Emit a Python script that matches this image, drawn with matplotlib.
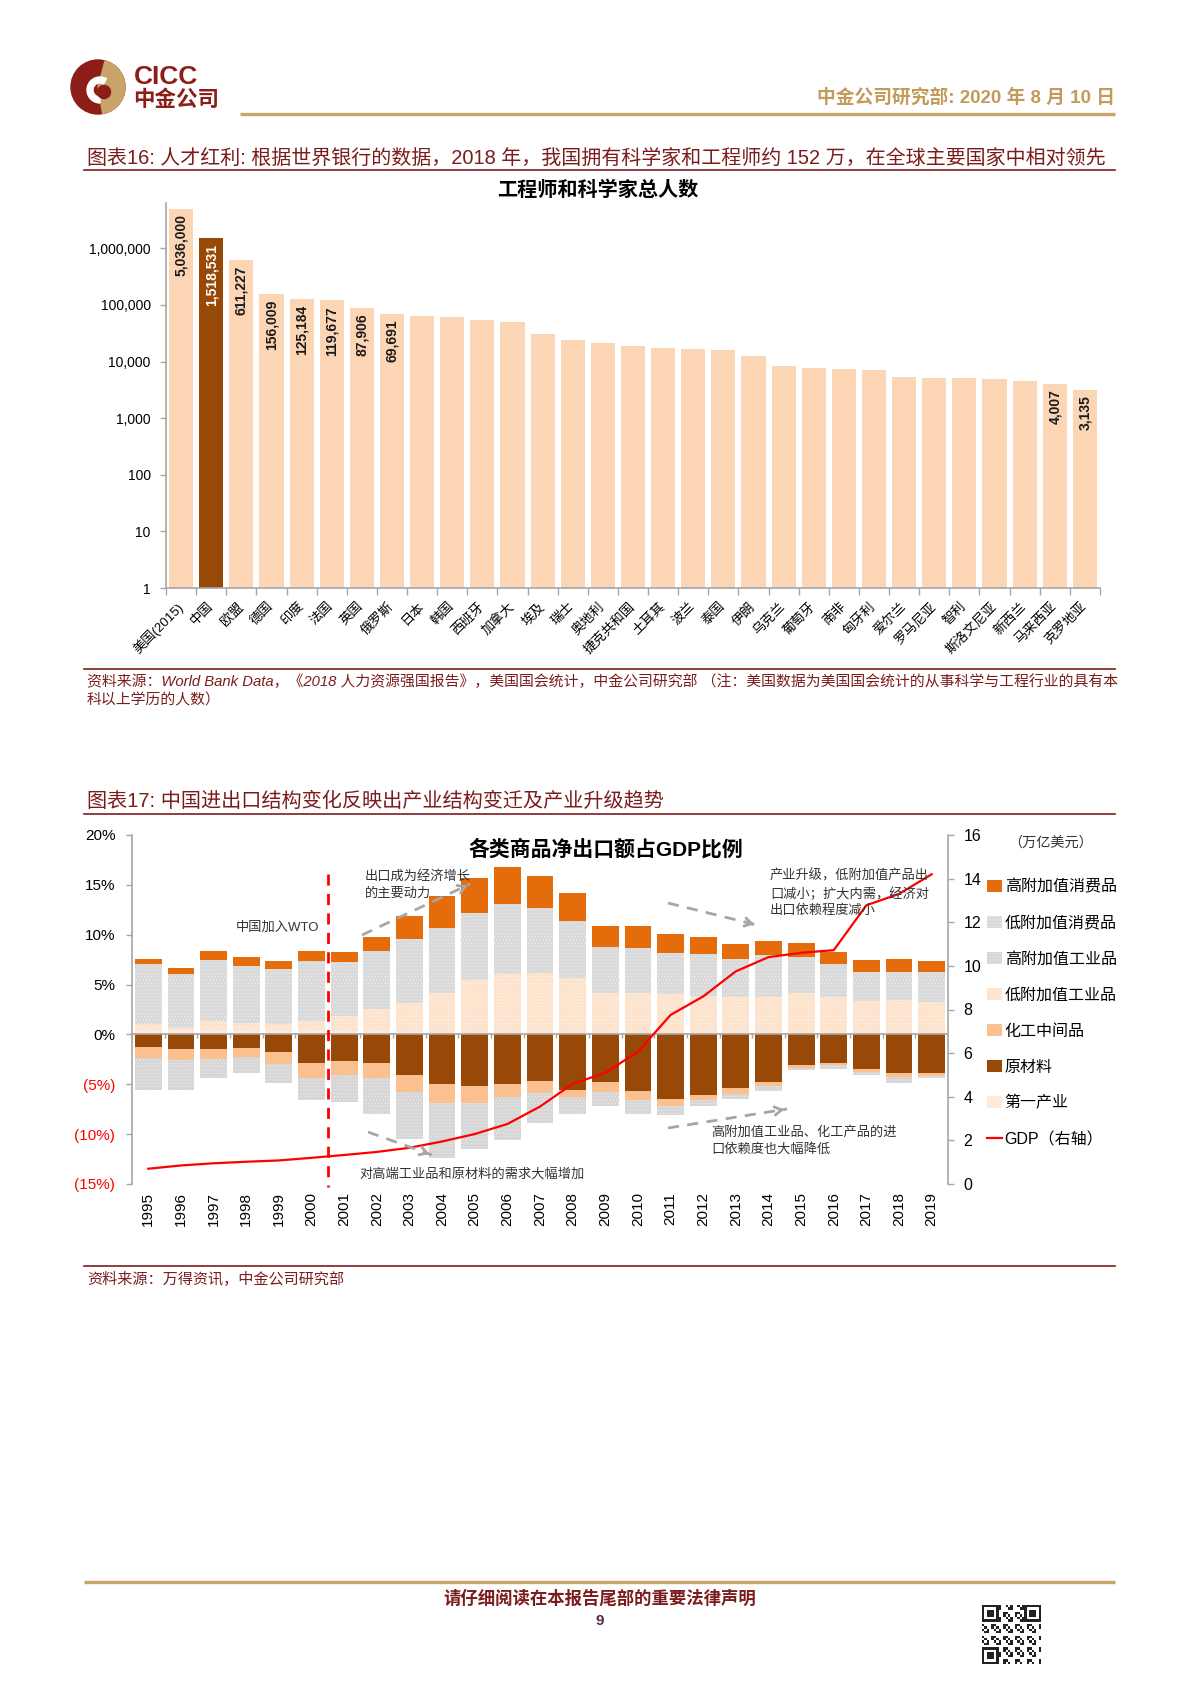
import numpy as np
import matplotlib
matplotlib.use('Agg')
import matplotlib.pyplot as plt
from matplotlib.patches import Rectangle, Circle, Wedge, Patch
from matplotlib.lines import Line2D

plt.rcParams['font.family'] = ['Liberation Sans', 'Noto Sans CJK SC', 'DejaVu Sans']
plt.rcParams['hatch.linewidth'] = 0.5
plt.rcParams['axes.unicode_minus'] = False

# ---------------- data: chart 1 ----------------
countries = ['美国(2015)', '中国', '欧盟', '德国', '印度', '法国', '英国', '俄罗斯', '日本', '韩国',
             '西班牙', '加拿大', '埃及', '瑞士', '奥地利', '捷克共和国', '土耳其', '波兰', '泰国', '伊朗',
             '乌克兰', '葡萄牙', '南非', '匈牙利', '爱尔兰', '罗马尼亚', '智利', '斯洛文尼亚', '新西兰',
             '马来西亚', '克罗地亚']
engineers = [5036000, 1518531, 611227, 156009, 125184, 119677, 87906, 69691, 64600, 61200,
             54200, 50600, 30600, 23700, 21500, 19000, 17100, 16600, 16200, 12400,
             8340, 7580, 7480, 7090, 5400, 5190, 5050, 4910, 4590,
             4007, 3135]
labeled_idx = [0, 1, 2, 3, 4, 5, 6, 7, 29, 30]
y1_ticks = [1, 10, 100, 1000, 10000, 100000, 1000000]

# ---------------- data: chart 2 ----------------
years = list(range(1995, 2020))
primary = [0.4, 0.3, 0.4, 0.4, 0.3, 0.3, 0.3, 0.3, 0.2, 0.1, 0.1, 0.1, 0.05, 0, 0, 0, 0, 0, 0, 0, 0, 0, 0, 0, 0]
raw_mat = [-1.28, -1.5, -1.5, -1.34, -1.8, -2.88, -2.71, -2.84, -4.05, -4.95, -5.15, -4.95, -4.72, -5.62,
           -4.78, -5.69, -6.49, -6.05, -5.4, -4.75, -3.1, -2.82, -3.42, -3.9, -3.9]
chem_mid = [-1.07, -1.04, -0.94, -0.94, -1.2, -1.44, -1.34, -1.54, -1.71, -1.97, -1.71, -1.37, -1.17, -0.7,
            -0.97, -0.9, -0.64, -0.57, -0.54, -0.47, -0.23, -0.27, -0.33, -0.4, -0.23]
low_ind = [0.6, 0.34, 0.9, 0.7, 0.7, 1.07, 1.5, 2.2, 2.98, 4.05, 5.32, 5.99, 6.1, 5.62,
           4.15, 4.15, 4.08, 3.85, 3.8, 3.8, 4.15, 3.8, 3.38, 3.48, 3.26]
high_ind = [-3.21, -3.01, -1.91, -1.54, -1.84, -2.24, -2.74, -3.58, -4.75, -5.45, -4.65, -4.25, -3.01, -1.64,
            -1.4, -1.44, -1.0, -0.57, -0.5, -0.43, -0.23, -0.4, -0.33, -0.6, -0.2]
low_con = [6.09, 5.45, 6.19, 5.75, 5.52, 5.95, 5.42, 5.85, 6.42, 6.56, 6.76, 7.02, 6.52, 5.72,
           4.65, 4.52, 4.08, 4.18, 3.72, 4.15, 3.62, 3.3, 2.91, 2.78, 2.96]
high_con = [0.5, 0.6, 0.84, 0.94, 0.84, 1.07, 1.07, 1.44, 2.27, 3.14, 3.55, 3.68, 3.18, 2.84,
            2.07, 2.17, 1.87, 1.74, 1.57, 1.39, 1.39, 1.15, 1.14, 1.27, 1.1]
gdp = [0.70, 0.85, 0.95, 1.02, 1.08, 1.20, 1.33, 1.47, 1.66, 1.95, 2.29, 2.75, 3.55, 4.59,
       5.10, 6.06, 7.75, 8.60, 9.75, 10.40, 10.60, 10.72, 12.78, 13.30, 14.20]
left_ticks = [-15, -10, -5, 0, 5, 10, 15, 20]
right_ticks = [0, 2, 4, 6, 8, 10, 12, 14, 16]

# ---------------- figure ----------------
W, H = 1200, 1698
fig = plt.figure(figsize=(W / 100, H / 100), dpi=100)


def rect(x0, y0, x1, y1):
    return [x0 / W, 1 - y1 / H, (x1 - x0) / W, (y1 - y0) / H]


AXC = '#A6A6A6'
MAROON = '#7B1C1C'
GOLD = '#C9A468'

# ---------------- chart 1 ----------------
ax1 = fig.add_axes(rect(166, 203, 1100, 588))
x1 = np.arange(len(countries))
cols1 = ['#984807' if c == '中国' else '#FCD5B5' for c in countries]
ax1.bar(x1, engineers, width=0.8, color=cols1, linewidth=0, zorder=2)
ax1.set_yscale('log')
ax1.set_ylim(1, 10 ** 6.8)
ax1.set_xlim(-0.5, len(countries) - 0.5)
ax1.set_yticks(y1_ticks)
ax1.set_yticklabels([f'{v:,}' for v in y1_ticks])
ax1.yaxis.set_minor_locator(matplotlib.ticker.NullLocator())
ax1.tick_params(axis='y', length=4, width=1, color=AXC, pad=7, labelsize=10)
ax1.set_xticks(x1)
ax1.set_xticklabels(countries, rotation=45, ha='right', va='center', rotation_mode='anchor', fontsize=9.5)
ax1.tick_params(axis='x', which='major', length=0, pad=12)
ax1.set_xticks(np.arange(-0.5, len(countries), 1), minor=True)
ax1.tick_params(axis='x', which='minor', length=5, width=1, color=AXC)
for s in ['top', 'right']:
    ax1.spines[s].set_visible(False)
for s in ['left', 'bottom']:
    ax1.spines[s].set_color(AXC)
    ax1.spines[s].set_linewidth(1.2)
for i in labeled_idx:
    ax1.annotate(f'{engineers[i]:,}', xy=(x1[i], engineers[i]), xytext=(0, -4), textcoords='offset points',
                 rotation=90, ha='center', va='top', fontsize=10, fontweight='bold',
                 color='white' if countries[i] == '中国' else '#1A1A1A', zorder=3)

# ---------------- chart 2 ----------------
ax2 = fig.add_axes(rect(132, 835, 948, 1184))
axr = ax2.twinx()
x2 = np.arange(len(years))
bw = 0.82
series = [
    ('第一产业', primary, '#FDEADA', None, None),
    ('原材料', raw_mat, '#984807', None, None),
    ('化工中间品', chem_mid, '#FAC090', None, None),
    ('低附加值工业品', low_ind, '#FDE2CC', '.....', '#FEF1E7'),
    ('高附加值工业品', high_ind, '#D6D6D6', '.....', '#EAEAEA'),
    ('低附加值消费品', low_con, '#D9D9D9', '.....', '#EDEDED'),
    ('高附加值消费品', high_con, '#E46C0A', None, None),
]
pos = np.zeros(len(years))
neg = np.zeros(len(years))
handles = {}
for name, vals, col, hatch, hcol in series:
    v = np.array(vals, float)
    bottom = np.where(v >= 0, pos, neg)
    ax2.bar(x2, v, bw, bottom=bottom, color=col, hatch=hatch,
            edgecolor=hcol if hcol else col, linewidth=0, zorder=2)
    pos += np.clip(v, 0, None)
    neg += np.clip(v, None, 0)
    handles[name] = Patch(facecolor=col, hatch=hatch, edgecolor=hcol if hcol else col, linewidth=0)

ax2.set_xlim(-0.5, len(years) - 0.5)
ax2.set_ylim(-15, 20)
ax2.axhline(0, color=AXC, lw=1.2, zorder=3)
ax2.vlines(np.arange(-0.5, len(years), 1), 0, -0.35, color=AXC, lw=1, zorder=3)
ax2.set_yticks(left_ticks)
ax2.set_yticklabels([f'{v}%' if v >= 0 else f'({-v}%)' for v in left_ticks])
for lab, v in zip(ax2.get_yticklabels(), left_ticks):
    lab.set_color('#FF0000' if v < 0 else 'black')
ax2.tick_params(axis='y', length=4, width=1, color=AXC, pad=8, labelsize=11)
ax2.set_xticks(x2)
ax2.set_xticklabels([str(y) for y in years], rotation=90, fontsize=11, va='top')
ax2.tick_params(axis='x', length=0, pad=6)
for s in ['top', 'right', 'bottom']:
    ax2.spines[s].set_visible(False)
ax2.spines['left'].set_color(AXC)
ax2.spines['left'].set_linewidth(1.2)
ax2.plot([5.5, 5.5], [16.1, -15.3], color='#FF0000', lw=2, ls=(0, (4, 3)), clip_on=False, zorder=4)

axr.plot(x2, gdp, color='#FF0000', lw=1.6, zorder=5)
axr.set_ylim(0, 16)
axr.set_yticks(right_ticks)
axr.tick_params(axis='y', length=4, width=1, color=AXC, pad=7, labelsize=11.5)
for s in ['top', 'left', 'bottom']:
    axr.spines[s].set_visible(False)
axr.spines['right'].set_color(AXC)
axr.spines['right'].set_linewidth(1.2)

leg_order = ['高附加值消费品', '低附加值消费品', '高附加值工业品', '低附加值工业品', '化工中间品', '原材料', '第一产业']
leg_handles = [handles[n] for n in leg_order] + [Line2D([], [], color='#FF0000', lw=1.6)]
leg_labels = leg_order + ['GDP（右轴）']
fig.legend(leg_handles, leg_labels, loc='upper left', bbox_to_anchor=(987 / W, 1 - 879 / H),
           frameon=False, fontsize=11.5, labelspacing=1.32, handlelength=0.95, handleheight=0.8,
           handletextpad=0.15, borderpad=0, borderaxespad=0)

# ---------------- page overlay ----------------
page = fig.add_axes([0, 0, 1, 1])
page.set_xlim(0, W)
page.set_ylim(H, 0)
page.axis('off')
page.set_zorder(10)
page.patch.set_alpha(0)

# logo
page.add_patch(Circle((98, 87), 27, color='#8C1D18'))
page.add_patch(Wedge((98, 87), 27, -75, 80, color=GOLD))
page.add_patch(Wedge((100, 90), 13, 90, 300, width=6, color='white'))
page.add_patch(Circle((104, 92), 6.5, color='#8C1D18'))
page.text(134, 77, 'CICC', fontsize=19, fontweight='bold', color='#8C1D18', va='center', ha='left')
page.text(133, 100, '中金公司', fontsize=15.5, fontweight='bold', color='#8C1D18', va='center', ha='left')
page.text(1115, 98, '中金公司研究部: 2020 年 8 月 10 日', fontsize=13.5, fontweight='bold',
          color='#C49A5A', va='center', ha='right')
page.plot([240, 1115], [114, 114], color=GOLD, lw=2.4, solid_capstyle='butt')

# caption 16
page.text(87, 158, '图表16: 人才红利: 根据世界银行的数据，2018 年，我国拥有科学家和工程师约 152 万，在全球主要国家中相对领先',
          fontsize=14.4, color=MAROON, va='center', ha='left')
page.plot([84, 1115], [169.5, 169.5], color=MAROON, lw=1.2)
page.text(598, 190, '工程师和科学家总人数', fontsize=14.5, fontweight='bold', color='black', va='center', ha='center')

# source 1
page.plot([84, 1115], [669, 669], color=MAROON, lw=1.2)
page.text(87, 682, '资料来源：World Bank Data，《2018 人力资源强国报告》，美国国会统计，中金公司研究部 （注：美国数据为美国国会统计的从事科学与工程行业的具有本',
          fontsize=10.7, color=MAROON, va='center', ha='left', style='italic')
page.text(87, 700, '科以上学历的人数）', fontsize=10.7, color=MAROON, va='center', ha='left', style='italic')

# caption 17
page.text(87, 801, '图表17: 中国进出口结构变化反映出产业结构变迁及产业升级趋势',
          fontsize=14.5, color=MAROON, va='center', ha='left')
page.plot([84, 1115], [814, 814], color=MAROON, lw=1.2)
page.text(606, 849, '各类商品净出口额占GDP比例', fontsize=15, fontweight='bold', color='black', va='center', ha='center')
page.text(1008, 843, '（万亿美元）', fontsize=10.2, color='#333333', va='center', ha='left')

# annotations
ann_c = '#333333'
page.text(236, 928, '中国加入WTO', fontsize=9.5, color=ann_c, va='center', ha='left')
page.text(365, 876, '出口成为经济增长', fontsize=9.5, color=ann_c, va='center', ha='left')
page.text(365, 894, '的主要动力', fontsize=9.5, color=ann_c, va='center', ha='left')
page.text(359, 1174, '对高端工业品和原材料的需求大幅增加', fontsize=9.5, color=ann_c, va='center', ha='left')
page.text(770, 876, '产业升级，低附加值产品出', fontsize=9.5, color=ann_c, va='center', ha='left')
page.text(770, 894, '口减小；扩大内需，经济对', fontsize=9.5, color=ann_c, va='center', ha='left')
page.text(770, 911, '出口依赖程度减小', fontsize=9.5, color=ann_c, va='center', ha='left')
page.text(711, 1132, '高附加值工业品、化工产品的进', fontsize=9.5, color=ann_c, va='center', ha='left')
page.text(711, 1149, '口依赖度也大幅降低', fontsize=9.5, color=ann_c, va='center', ha='left')


def dashed_arrow(p0, p1):
    page.plot([p0[0], p1[0]], [p0[1], p1[1]], color='#A6A6A6', lw=2, ls=(0, (4, 3)))
    d = np.array(p1, float) - np.array(p0, float)
    d = d / np.hypot(*d)
    page.annotate('', xy=p1, xytext=(p1[0] - d[0] * 8, p1[1] - d[1] * 8),
                  arrowprops=dict(arrowstyle='->,head_length=0.5,head_width=0.3', color='#A6A6A6', lw=2))


dashed_arrow((362, 935), (470, 884))
dashed_arrow((368, 1132), (432, 1155))
dashed_arrow((668, 903), (757, 925))
dashed_arrow((668, 1128), (787, 1109))

# source 2
page.plot([84, 1115], [1266, 1266], color=MAROON, lw=1.2)
page.text(87, 1279, '资料来源：万得资讯，中金公司研究部', fontsize=10.9, color=MAROON, va='center', ha='left', style='italic')

# footer
page.plot([84, 1115], [1582, 1582], color=GOLD, lw=2.4, solid_capstyle='butt')
page.text(600, 1598, '请仔细阅读在本报告尾部的重要法律声明', fontsize=12.5, fontweight='bold', color=MAROON,
          va='center', ha='center')
page.text(600, 1621, '9', fontsize=11, fontweight='bold', color='#5A2A4A', va='center', ha='center')

# QR-like decoration
n = 25
qx0, qy0, qs = 982, 1605, 59
cell = qs / n
for i in range(n):
    for j in range(n):
        finder = False
        for (fi, fj) in [(0, 0), (0, n - 7), (n - 7, 0)]:
            if fi <= i < fi + 7 and fj <= j < fj + 7:
                finder = True
                ii, jj = i - fi, j - fj
                on = (ii in (0, 6) or jj in (0, 6)) or (2 <= ii <= 4 and 2 <= jj <= 4)
        if not finder:
            on = ((i * 7 + j * 13 + i * j) % 5) < 2
        if on:
            page.add_patch(Rectangle((qx0 + j * cell, qy0 + i * cell), cell, cell, color='#222222', lw=0))

fig.savefig('out.png', dpi=100)
